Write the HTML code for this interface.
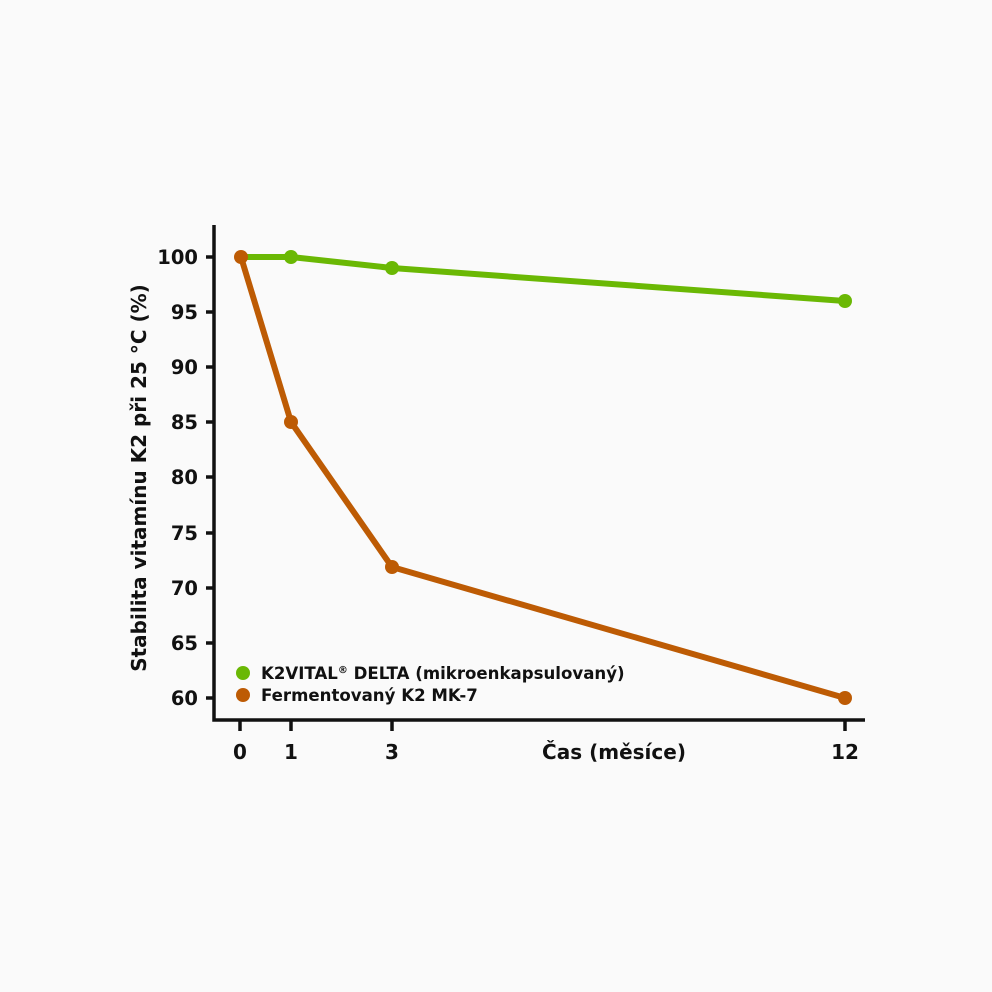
<!DOCTYPE html><html><head><meta charset="utf-8"><style>body{margin:0;background:#fafafa}svg{display:block}text{font-family:"DejaVu Sans","Liberation Sans",sans-serif;font-weight:bold;fill:#111}</style></head><body>
<svg width="992" height="992" viewBox="0 0 992 992">
<rect width="992" height="992" fill="#fafafa"/>
<g stroke="#111" stroke-width="3.5" fill="none">
<path d="M214 225V720H865"/>
<path d="M206 257H214M206 312H214M206 367H214M206 422H214M206 477H214M206 533H214M206 588H214M206 643H214M206 698H214"/>
<path d="M240 720V731M291 720V731M392 720V731M845 720V731"/>
</g>
<g font-size="19.5" text-anchor="end">
<text x="198" y="264">100</text><text x="198" y="319">95</text><text x="198" y="374">90</text><text x="198" y="429">85</text><text x="198" y="484">80</text><text x="198" y="540">75</text><text x="198" y="595">70</text><text x="198" y="650">65</text><text x="198" y="705">60</text>
</g>
<g font-size="20" text-anchor="middle">
<text x="240" y="759">0</text><text x="291" y="759">1</text><text x="392" y="759">3</text><text x="845" y="759">12</text><text x="614" y="759">Čas (měsíce)</text>
</g>
<text transform="translate(146,478) rotate(-90)" font-size="20" text-anchor="middle">Stabilita vitamínu K2 při 25 °C (%)</text>
<polyline points="241,257 291,257 392,268 845,301" fill="none" stroke="#6ab804" stroke-width="6" stroke-linejoin="round"/>
<polyline points="241,257 291,422 392,567 845,698" fill="none" stroke="#bd5b04" stroke-width="6" stroke-linejoin="round"/>
<g fill="#6ab804"><circle cx="291" cy="257" r="7"/><circle cx="392" cy="268" r="7"/><circle cx="845" cy="301" r="7"/><circle cx="243" cy="673" r="7"/></g>
<g fill="#bd5b04"><circle cx="241" cy="257" r="7"/><circle cx="291" cy="422" r="7"/><circle cx="392" cy="567" r="7"/><circle cx="845" cy="698" r="7"/><circle cx="243" cy="695" r="7"/></g>
<g font-size="16.6"><text x="261" y="679">K2VITAL<tspan font-size="10" dy="-6">®</tspan><tspan dy="6"> DELTA (mikroenkapsulovaný)</tspan></text>
<text x="261" y="701">Fermentovaný K2 MK-7</text></g>
</svg></body></html>
